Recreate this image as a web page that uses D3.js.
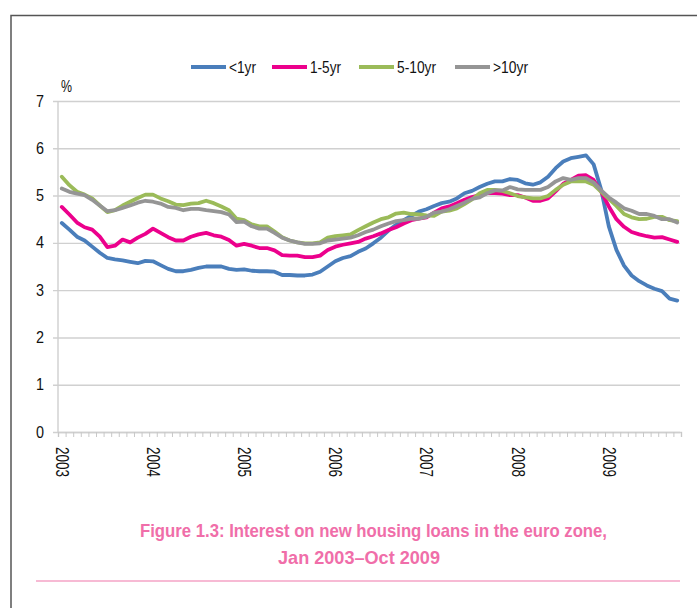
<!DOCTYPE html>
<html lang="en">
<head>
  <meta charset="UTF-8">
  <title>Interest on new housing loans in the euro zone</title>
  <script src="https://cdn.jsdelivr.net/npm/d3@7"></script>
  <style>
    html, body { margin: 0; padding: 0; background: #fff; }
    svg { display: block; }
    svg text { font-family: "Liberation Sans", Arial, sans-serif; }
  </style>
</head>
<body>
<div id="chart"></div>
<script>
// monthly data, Jan 2003 .. Oct 2009 (82 months)
const years = ["2003", "2004", "2005", "2006", "2007", "2008", "2009"];
const seriesNames = ["<1yr", "1-5yr", "5-10yr", ">10yr"];
const seriesColors = ["#4a7ebb", "#ec008c", "#9bbb59", "#959595"];
const yTicks = [0, 1, 2, 3, 4, 5, 6, 7];

const under1 = [
  4.42, 4.28, 4.13, 4.05, 3.92, 3.79, 3.68, 3.65, 3.63, 3.60, 3.57, 3.62,
  3.61, 3.53, 3.45, 3.40, 3.40, 3.43, 3.47, 3.50, 3.50, 3.50, 3.45, 3.43,
  3.44, 3.41, 3.40, 3.40, 3.39, 3.32, 3.32, 3.31, 3.31, 3.33, 3.39, 3.50,
  3.61, 3.68, 3.72, 3.81, 3.88, 3.99, 4.11, 4.26, 4.38, 4.48, 4.57, 4.66,
  4.71, 4.78, 4.84, 4.87, 4.94, 5.05, 5.10, 5.18, 5.25, 5.30, 5.30, 5.35,
  5.33, 5.26, 5.23, 5.28, 5.40, 5.58, 5.72, 5.79, 5.82, 5.85, 5.66, 5.12,
  4.35, 3.85, 3.52, 3.31, 3.19, 3.10, 3.03, 2.98, 2.82, 2.78
];
const y1to5 = [
  4.76, 4.60, 4.43, 4.33, 4.28, 4.13, 3.91, 3.94, 4.07, 4.01, 4.11, 4.19,
  4.30, 4.21, 4.12, 4.05, 4.05, 4.13, 4.18, 4.21, 4.16, 4.13, 4.06, 3.94,
  3.98, 3.94, 3.89, 3.89, 3.84, 3.74, 3.73, 3.73, 3.70, 3.70, 3.73, 3.85,
  3.92, 3.96, 3.99, 4.02, 4.09, 4.14, 4.20, 4.27, 4.33, 4.41, 4.48, 4.51,
  4.54, 4.64, 4.73, 4.77, 4.84, 4.91, 4.97, 5.01, 5.05, 5.05, 5.04, 5.01,
  5.01, 4.96, 4.89, 4.89, 4.94, 5.09, 5.25, 5.33, 5.42, 5.43, 5.33, 5.08,
  4.77, 4.50, 4.34, 4.23, 4.18, 4.14, 4.11, 4.12, 4.07, 4.02
];
const y5to10 = [
  5.40, 5.22, 5.08, 5.02, 4.94, 4.79, 4.65, 4.69, 4.79, 4.87, 4.95, 5.02,
  5.02, 4.94, 4.88, 4.81, 4.80, 4.83, 4.84, 4.89, 4.84, 4.77, 4.69, 4.51,
  4.48, 4.39, 4.35, 4.35, 4.24, 4.12, 4.05, 4.01, 3.99, 3.99, 4.01, 4.11,
  4.14, 4.16, 4.18, 4.27, 4.35, 4.43, 4.50, 4.54, 4.62, 4.64, 4.61, 4.60,
  4.58, 4.57, 4.66, 4.68, 4.73, 4.82, 4.92, 5.05, 5.12, 5.12, 5.10, 5.05,
  4.99, 4.96, 4.94, 4.94, 4.99, 5.12, 5.23, 5.30, 5.30, 5.30, 5.23, 5.08,
  4.93, 4.78, 4.61, 4.54, 4.50, 4.51, 4.55, 4.55, 4.48, 4.46
];
const over10 = [
  5.15, 5.08, 5.04, 5.01, 4.91, 4.79, 4.67, 4.69, 4.74, 4.79, 4.85, 4.89,
  4.87, 4.83, 4.76, 4.74, 4.69, 4.72, 4.72, 4.69, 4.67, 4.65, 4.60, 4.44,
  4.45, 4.35, 4.30, 4.30, 4.21, 4.11, 4.05, 4.01, 3.98, 3.98, 3.99, 4.05,
  4.07, 4.09, 4.11, 4.16, 4.23, 4.28, 4.35, 4.41, 4.46, 4.48, 4.51, 4.51,
  4.55, 4.64, 4.66, 4.71, 4.78, 4.85, 4.93, 4.96, 5.05, 5.11, 5.11, 5.18,
  5.13, 5.12, 5.12, 5.12, 5.18, 5.30, 5.37, 5.33, 5.37, 5.37, 5.28, 5.11,
  4.96, 4.85, 4.73, 4.68, 4.61, 4.61, 4.57, 4.50, 4.50, 4.43
];

const series = [under1, y1to5, y5to10, over10];
const nMonths = under1.length;

const width = 697, height = 608;
const plot = { left: 58, right: 681, top: 101, bottom: 432 };

// no narrow font installed: squeeze the text to the original's widths
function squeeze (sel, len) {
  sel.attr("textLength", len).attr("lengthAdjust", "spacingAndGlyphs");
}

const svg = d3.select("#chart").append("svg")
  .attr("width", width)
  .attr("height", height);

// outer frame (runs off the page on the right and bottom)
svg.append("path")
  .attr("d", "M11,620V15.5H705")
  .attr("fill", "none")
  .attr("stroke", "#555")
  .attr("stroke-width", 1.5);

const x = d3.scaleLinear().domain([0, nMonths]).range([plot.left, plot.right]);
const y = d3.scaleLinear().domain([0, 7]).range([plot.bottom, plot.top]);

// y gridlines + labels
const yAxisG = svg.append("g")
  .attr("transform", `translate(${plot.left - 5},0)`)
  .call(d3.axisLeft(y)
    .tickValues(yTicks)
    .tickSize(-(plot.right - plot.left + 4))
    .tickPadding(9)
    .tickFormat(d3.format("d")));
yAxisG.select(".domain").remove();
yAxisG.selectAll(".tick line")
  .attr("stroke", "#d0d0d0")
  .attr("stroke-width", 1.4);
yAxisG.selectAll(".tick text")
  .attr("font-size", 16)
  .attr("fill", "#111")
  .call(squeeze, 8);

// y axis line
svg.append("line")
  .attr("x1", plot.left).attr("x2", plot.left)
  .attr("y1", plot.top).attr("y2", plot.bottom)
  .attr("stroke", "#cfcfcf")
  .attr("stroke-width", 1.4);

// x axis: small ticks between months
const xAxisG = svg.append("g")
  .attr("transform", `translate(0,${plot.bottom})`)
  .call(d3.axisBottom(x)
    .tickValues(d3.range(nMonths + 1))
    .tickSize(5)
    .tickFormat(""));
xAxisG.select(".domain")
  .attr("stroke", "#cfcfcf")
  .attr("stroke-width", 1.4);
xAxisG.selectAll(".tick line")
  .attr("stroke", "#c8c8c8");

// year labels, rotated
svg.append("g")
  .selectAll("text")
  .data(years)
  .join("text")
  .attr("transform", (d, i) => `translate(${x(i * 12 + 0.5)},447) rotate(90)`)
  .attr("dy", "0.35em")
  .attr("font-size", 17.5)
  .attr("fill", "#111")
  .text(d => d)
  .call(squeeze, 30);

// "%" unit label
svg.append("text")
  .attr("x", 61).attr("y", 92)
  .attr("font-size", 16)
  .attr("fill", "#111")
  .text("%")
  .call(squeeze, 11);

// lines
const line = d3.line()
  .x((d, i) => x(i + 0.5))
  .y(d => y(d));

svg.append("g")
  .selectAll("path")
  .data(series)
  .join("path")
  .attr("d", line)
  .attr("fill", "none")
  .attr("stroke", (d, i) => seriesColors[i])
  .attr("stroke-width", 3.8)
  .attr("stroke-linejoin", "round")
  .attr("stroke-linecap", "round");

// legend
const legendX = [191, 272, 359, 455];
const legendW = [27, 31, 39, 35];
const legend = svg.append("g")
  .selectAll("g")
  .data(seriesNames)
  .join("g")
  .attr("transform", (d, i) => `translate(${legendX[i]},67)`);
legend.append("line")
  .attr("x1", 0).attr("x2", 35)
  .attr("stroke", (d, i) => seriesColors[i])
  .attr("stroke-width", 3.8);
legend.append("text")
  .attr("x", 38)
  .attr("dy", "0.35em")
  .attr("font-size", 16)
  .attr("fill", "#111")
  .text(d => d)
  .each(function (d, i) { d3.select(this).call(squeeze, legendW[i]); });

// title
const title = svg.append("g")
  .attr("font-size", 18.5)
  .attr("font-weight", "bold")
  .attr("fill", "#f06ea9");
title.append("text").attr("x", 140).attr("y", 537)
  .text("Figure 1.3: Interest on new housing loans in the euro zone,")
  .call(squeeze, 467);
title.append("text").attr("x", 278).attr("y", 564)
  .text("Jan 2003\u2013Oct 2009")
  .call(squeeze, 162);

// pink rule under the title
svg.append("line")
  .attr("x1", 36).attr("x2", 680)
  .attr("y1", 581).attr("y2", 581)
  .attr("stroke", "#f4a3c6")
  .attr("stroke-width", 1.5);
</script>
</body>
</html>
